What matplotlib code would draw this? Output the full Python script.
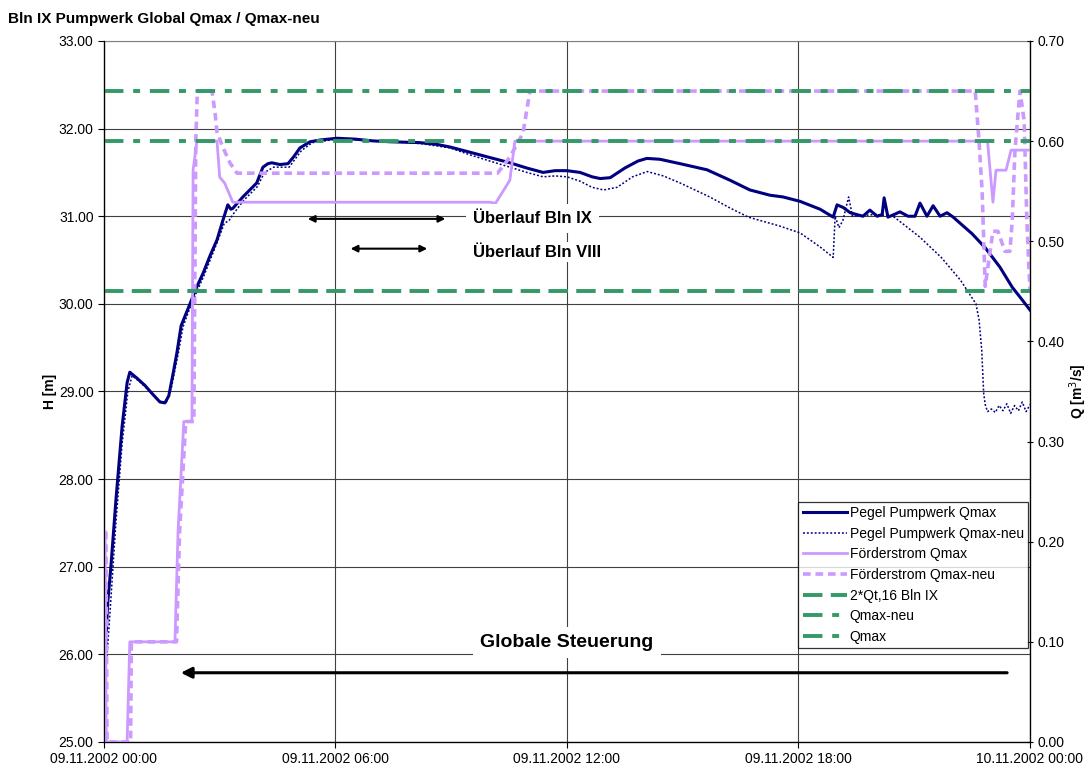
import numpy as np
import pandas as pd
import matplotlib
matplotlib.use("Agg")
import matplotlib.pyplot as plt
import matplotlib.dates as mdates

plt.rcParams['font.family'] = ['Liberation Sans', 'DejaVu Sans']
plt.rcParams['lines.scale_dashes'] = False

start = pd.Timestamp('2002-11-09 00:00')

# Pegel Pumpwerk Qmax (H in m), hours after start
pegel_t = [0.03, 0.10, 0.18, 0.31, 0.47, 0.60, 0.67, 0.86, 1.06, 1.24, 1.45, 1.58, 1.68, 1.79,
           1.89, 2.00, 2.10, 2.23, 2.38, 2.57, 2.75, 2.93, 3.08, 3.21, 3.29, 3.34, 3.60, 3.96,
           4.12, 4.25, 4.35, 4.56, 4.77, 4.92, 5.08, 5.34, 5.60, 6.04, 6.51, 6.97, 7.41, 8.19,
           8.63, 8.97, 9.49, 10.0, 10.52, 10.96, 11.38, 11.69, 12.0, 12.34, 12.65, 12.86, 13.12,
           13.50, 13.84, 14.07, 14.41, 14.93, 15.63, 16.23, 16.74, 17.26, 17.60, 18.04, 18.56,
           18.90, 19.0, 19.16, 19.34, 19.67, 19.85, 20.04, 20.17, 20.22, 20.32, 20.48, 20.63,
           20.84, 21.02, 21.15, 21.33, 21.49, 21.67, 21.85, 22.01, 22.19, 22.50, 22.84, 23.22,
           23.54, 23.79, 24.0]
pegel_h = [26.0, 26.6, 27.0, 27.76, 28.6, 29.1, 29.22, 29.15, 29.07, 28.98, 28.88, 28.87, 28.95, 29.2,
           29.44, 29.75, 29.86, 30.0, 30.17, 30.35, 30.55, 30.73, 30.95, 31.13, 31.08, 31.09, 31.22, 31.38,
           31.56, 31.60, 31.61, 31.59, 31.60, 31.68, 31.78, 31.85, 31.87, 31.89, 31.88, 31.86, 31.85, 31.84,
           31.82, 31.79, 31.73, 31.67, 31.61, 31.55, 31.50, 31.52, 31.52, 31.50, 31.45, 31.43, 31.44,
           31.55, 31.63, 31.66, 31.65, 31.60, 31.53, 31.41, 31.30, 31.24, 31.22, 31.17, 31.08,
           30.99, 31.13, 31.10, 31.04, 31.00, 31.07, 31.00, 31.02, 31.21, 30.99, 31.02, 31.05,
           31.00, 31.00, 31.15, 31.00, 31.12, 31.00, 31.04, 30.99, 30.92, 30.80, 30.64, 30.42,
           30.19, 30.05, 29.93]

# Pegel Pumpwerk Qmax-neu
neu_t = [0.05, 0.16, 0.31, 0.47, 0.62, 0.73, 0.90, 1.10, 1.30, 1.50, 1.62, 1.75, 1.92, 2.05,
         2.25, 2.60, 2.95, 3.12, 3.24, 3.36, 3.62, 3.98, 4.16, 4.40, 4.80, 5.12, 5.40, 6.04,
         7.0, 8.2, 8.97, 9.49, 10.0, 10.52, 10.96, 11.38, 11.69, 12.0, 12.34, 12.65, 12.95, 13.3,
         13.7, 14.08, 14.5, 14.93, 15.7, 16.2, 16.7, 17.1, 17.5, 18.04, 18.56, 18.90, 18.95,
         19.05, 19.15, 19.30, 19.40, 19.70, 20.0, 20.45, 20.6, 21.15, 21.7, 22.2, 22.6, 22.68,
         22.75, 22.80, 22.84, 22.90, 23.0, 23.1, 23.2, 23.3, 23.4, 23.5, 23.6, 23.7, 23.8, 23.9, 24.0]
neu_h = [25.8, 26.5, 27.5, 28.4, 29.0, 29.18, 29.12, 29.04, 28.95, 28.87, 28.88, 29.05, 29.42, 29.74,
         29.98, 30.33, 30.72, 30.92, 30.95, 31.03, 31.18, 31.34, 31.50, 31.56, 31.56, 31.75, 31.84, 31.88,
         31.86, 31.83, 31.78, 31.70, 31.63, 31.56, 31.50, 31.45, 31.46, 31.45, 31.40, 31.33, 31.30, 31.33,
         31.45, 31.51, 31.46, 31.38, 31.22, 31.10, 30.99, 30.94, 30.89, 30.81, 30.65, 30.53, 31.0,
         30.87, 30.95, 31.22, 31.0, 31.01, 31.02, 31.0, 30.95, 30.76, 30.53, 30.27, 30.0, 29.82,
         29.47, 28.98, 28.85, 28.77, 28.80, 28.76, 28.84, 28.78, 28.86, 28.75, 28.84, 28.78, 28.88, 28.77, 28.85]

# Förderstrom Qmax (m3/s)
qmax_t = [0.03, 0.06, 0.60, 0.67, 1.84, 1.92, 2.07, 2.28, 2.31, 2.41, 2.93, 3.0, 3.13, 3.34,
          10.0, 10.15, 10.52, 10.65, 22.9, 23.04, 23.12, 23.38, 23.51, 24.0]
qmax_q = [0.21, 0.0, 0.0, 0.10, 0.10, 0.21, 0.32, 0.32, 0.571, 0.60, 0.60, 0.564, 0.558, 0.539,
          0.539, 0.538, 0.561, 0.60, 0.60, 0.539, 0.571, 0.571, 0.591, 0.591]

# Förderstrom Qmax-neu
qneu_t = [0.05, 0.08, 0.69, 0.71, 1.88, 1.96, 2.12, 2.33, 2.38, 2.42, 2.80, 2.88, 2.93, 3.08,
          3.27, 3.45, 10.2, 10.52, 10.86, 11.04, 22.58, 22.68, 22.76, 22.84, 23.04, 23.17, 23.35,
          23.48, 23.54, 23.61, 23.74, 23.85, 23.92, 24.0]
qneu_q = [0.21, 0.0, 0.0, 0.10, 0.10, 0.21, 0.32, 0.32, 0.60, 0.65, 0.65, 0.628, 0.609, 0.594,
          0.578, 0.568, 0.568, 0.584, 0.608, 0.65, 0.65, 0.60, 0.55, 0.455, 0.51, 0.51, 0.49,
          0.49, 0.52, 0.59, 0.65, 0.62, 0.52, 0.45]

# horizontal reference flows
ref_labels = ['2*Qt,16 Bln IX', 'Qmax-neu', 'Qmax']
ref_values = [0.45, 0.65, 0.60]

x_ticks = [start + pd.Timedelta(hours=h) for h in [0, 6, 12, 18, 24]]


def to_dates(hours):
    return [start + pd.Timedelta(hours=h) for h in hours]


def h_to_q(h):
    # left axis value (25..33) -> right axis value (0..0.7)
    return (h - 25) * 0.7 / 8


navy = '#000080'
lilac = '#CC99FF'
green = '#339966'

fig = plt.figure(figsize=(10.92, 7.72), dpi=100)
ax = fig.add_axes([0.0952, 0.0389, 0.848, 0.908])
ax2 = ax.twinx()

ax.plot(to_dates(pegel_t), pegel_h, '-', color=navy, lw=2.2, label='Pegel Pumpwerk Qmax')
ax.plot(to_dates(neu_t), neu_h, color=navy, lw=1.1, dashes=(1.4, 1.4), label='Pegel Pumpwerk Qmax-neu')

ax2.plot(to_dates(qmax_t), qmax_q, '-', color=lilac, lw=2.0, label='Förderstrom Qmax')
ax2.plot(to_dates(qneu_t), qneu_q, color=lilac, lw=2.6, dashes=(5.5, 3.5), label='Förderstrom Qmax-neu')
ax2.axhline(ref_values[0], color=green, lw=2.8, dashes=(14, 6), label=ref_labels[0])
ax2.axhline(ref_values[1], color=green, lw=2.8, dashes=(14, 7, 5, 7), label=ref_labels[1])
ax2.axhline(ref_values[2], color=green, lw=2.8, dashes=(14, 7, 5, 7), label=ref_labels[2])

ax.set_xlim(x_ticks[0], x_ticks[-1])
ax.set_ylim(25, 33)
ax2.set_ylim(0, 0.7)
ax.set_xticks(x_ticks)
ax.xaxis.set_major_formatter(mdates.DateFormatter('%d.%m.%Y %H:%M'))
ax.set_yticks(np.arange(25, 33.01, 1))
ax.yaxis.set_major_formatter(plt.FormatStrFormatter('%.2f'))
ax2.set_yticks(np.arange(0, 0.701, 0.1))
ax2.yaxis.set_major_formatter(plt.FormatStrFormatter('%.2f'))

ax.grid(True, color='#404040', lw=0.8)
ax.tick_params(axis='both', labelsize=10, length=4, width=0.8)
ax2.tick_params(axis='y', labelsize=10, length=4, width=0.8, direction='inout')
for s in ['left', 'right', 'bottom']:
    ax.spines[s].set_linewidth(0.9)
ax.spines['top'].set_color('#808080')
ax2.spines['top'].set_visible(False)

ax.set_ylabel('H [m]', fontsize=10, fontweight='bold')
ax.yaxis.set_label_coords(-0.051, 0.5)
ax2.set_ylabel('Q [m$^3$/s]', fontsize=10, fontweight='bold')
ax2.yaxis.set_label_coords(1.040, 0.5)
fig.text(0.007, 0.975, 'Bln IX Pumpwerk Global Qmax / Qmax-neu', fontsize=11, fontweight='bold',
         va='center', ha='left')

# annotations (Überlauf ranges and global control)
arrow_h = [30.97, 30.63]
ax.annotate('', xy=(start + pd.Timedelta(hours=5.21), arrow_h[0]),
            xytext=(start + pd.Timedelta(hours=8.92), arrow_h[0]),
            arrowprops=dict(arrowstyle='<|-|>', color='black', lw=1.5, mutation_scale=10))
ax.annotate('', xy=(start + pd.Timedelta(hours=6.32), arrow_h[1]),
            xytext=(start + pd.Timedelta(hours=8.45), arrow_h[1]),
            arrowprops=dict(arrowstyle='<|-|>', color='black', lw=1.5, mutation_scale=10))
ax2.text(start + pd.Timedelta(hours=9.56), h_to_q(30.97), 'Überlauf Bln IX',
         fontsize=12, fontweight='bold', va='center', ha='left', zorder=5,
         bbox=dict(facecolor='white', edgecolor='none', pad=5))
ax2.text(start + pd.Timedelta(hours=9.56), h_to_q(30.59), 'Überlauf Bln VIII',
         fontsize=12, fontweight='bold', va='center', ha='left', zorder=5,
         bbox=dict(facecolor='white', edgecolor='none', pad=2))
ax.annotate('', xy=(start + pd.Timedelta(hours=1.92), 25.79),
            xytext=(start + pd.Timedelta(hours=23.48), 25.79),
            arrowprops=dict(arrowstyle='-|>', color='black', lw=2.2, mutation_scale=16))
ax2.text(start + pd.Timedelta(hours=12.0), h_to_q(26.13), 'Globale Steuerung',
         fontsize=14, fontweight='bold', va='center', ha='center', zorder=5,
         bbox=dict(facecolor='white', edgecolor='none', pad=5))

h1, l1 = ax.get_legend_handles_labels()
h2, l2 = ax2.get_legend_handles_labels()
leg = ax2.legend(h1 + h2, l1 + l2, loc='lower right', bbox_to_anchor=(0.998, 0.134),
                 fontsize=10, frameon=True, fancybox=False, edgecolor='black',
                 handlelength=3.2, labelspacing=0.48, borderpad=0.3, handletextpad=0.2,
                 borderaxespad=0)
leg.get_frame().set_linewidth(0.9)

fig.savefig('out.png', dpi=100)
